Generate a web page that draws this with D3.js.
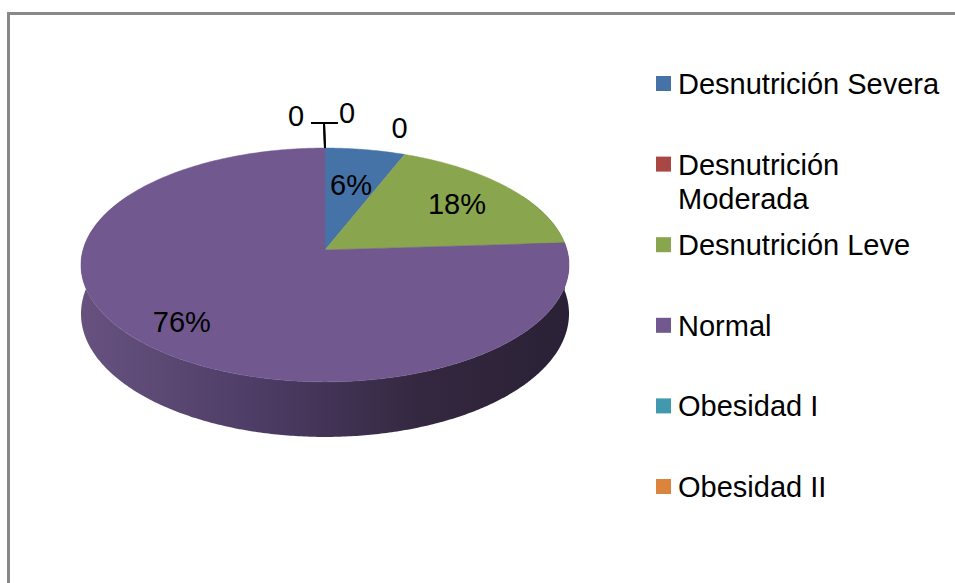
<!DOCTYPE html>
<html><head><meta charset="utf-8">
<script src="https://cdn.jsdelivr.net/npm/d3@7"></script>
<style>html,body{margin:0;padding:0;background:#fff;overflow:hidden}text{font-family:"Liberation Sans",Arial,sans-serif}</style>
</head><body>
<svg id="chart" width="955" height="583"></svg>
<script>
const categories = ["Desnutrición Severa","Desnutrición Moderada","Desnutrición Leve","Normal","Obesidad I","Obesidad II"];
const values = [6, 0, 18, 76, 0, 0];
const labels = ["6%","0","18%","76%","0","0"];
const colors = ["#4572A7","#AA4643","#89A54E","#71588F","#4198AF","#DB843D"];

const svg = d3.select("#chart");
svg.append("rect").attr("x",8.5).attr("y",13.5).attr("width",1200).attr("height",1200)
  .attr("fill","#fff").attr("stroke","#898989").attr("stroke-width",3);

// perspective projection of the pie disc
const cx=325, cy=250, R=242, Ry=115, k=0.128, D=48;
function proj(theta, f, down){
  const u=Math.sin(theta)*f, v=-Math.cos(theta)*f, s=1/(1-k*v);
  return [cx+R*u*s, cy+Ry*v*s+(down?D*s:0)];
}
function arcPts(a0,a1,f,down){
  const n=Math.max(2,Math.ceil((a1-a0)/0.01)), pts=[];
  for(let i=0;i<=n;i++) pts.push(proj(a0+(a1-a0)*i/n,f,down));
  return pts;
}
const line=d3.line();
const pie=d3.pie().sort(null).startAngle(0).endAngle(2*Math.PI).value(d=>d);
const arcs=pie(values);

const defs=svg.append("defs");
const g=defs.append("linearGradient").attr("id","sideGrad").attr("gradientUnits","userSpaceOnUse")
  .attr("x1",cx-R).attr("x2",cx+R).attr("y1",0).attr("y2",0);
[[0,"#67527f"],[0.4,"#4a3a62"],[0.7,"#33283f"],[1,"#2b2136"]].forEach(s=>g.append("stop").attr("offset",s[0]).attr("stop-color",s[1]));

// sides
const fr0=Math.PI/3, fr1=5*Math.PI/3;
arcs.forEach((a,i)=>{
  const b0=Math.max(a.startAngle,fr0), b1=Math.min(a.endAngle,fr1);
  if(a.value<=0||b1<=b0) return;
  const pts=arcPts(b0,b1,1,false).concat(arcPts(b0,b1,1,true).reverse());
  svg.append("path").attr("d",line(pts)+"Z")
    .attr("fill", i===3?"url(#sideGrad)":d3.color(colors[i]).darker(1.3));
});
// tops
arcs.forEach((a,i)=>{
  if(a.value<=0) return;
  const pts=[[cx,cy]].concat(arcPts(a.startAngle,a.endAngle,1,false));
  svg.append("path").attr("d",line(pts)+"Z").attr("fill",colors[i]).attr("stroke",colors[i]).attr("stroke-width",0.5);
});

// data labels
const fs=29;
const labelFrac={0:0.62,2:0.71,3:0.8};
const lg=svg.append("g").attr("font-size",fs).attr("fill","#000").attr("text-anchor","middle");
arcs.forEach((a,i)=>{
  const mid=(a.startAngle+a.endAngle)/2;
  if(a.value>0){
    const p=proj(mid,labelFrac[i],false);
    lg.append("text").attr("x",p[0]).attr("y",p[1]+10).text(labels[i]);
  }
});
// zero-value labels
const zeroIdx=arcs.map((a,i)=>i).filter(i=>arcs[i].value===0);
zeroIdx.forEach(i=>{
  const a=arcs[i];
  const p=proj(a.startAngle,1,false);
  if(i===1){
    lg.append("text").attr("x",p[0]-5).attr("y",p[1]-16).text(labels[i]);
  } else {
    const side = i===4?-1:1;
    const tx = p[0]+side*(i===4?29:22), ty = p[1]-(i===4?22:25);
    lg.append("text").attr("x",tx).attr("y",ty).text(labels[i]);
    const ly=p[1]-25;
    svg.append("path").attr("d",line([[p[0],p[1]],[p[0]-1,ly],[p[0]+side*(i===4?14:13),ly]]))
      .attr("fill","none").attr("stroke","#000").attr("stroke-width",2);
  }
});

// legend
const lx=656, ltx=678, maxW=272, step=80.6, base0=94, lh=34;
const leg=svg.append("g").attr("font-size",fs).attr("fill","#000");
categories.forEach((c,i)=>{
  const by=base0+i*step;
  leg.append("rect").attr("x",lx).attr("y",by-18).attr("width",15).attr("height",15).attr("fill",colors[i]);
  const t=leg.append("text").attr("x",ltx).attr("y",by);
  const words=c.split(" ");
  let lineWords=[], ts=t.append("tspan").attr("x",ltx).attr("y",by), ln=0;
  words.forEach(w=>{
    lineWords.push(w); ts.text(lineWords.join(" "));
    if(ts.node().getComputedTextLength()>maxW && lineWords.length>1){
      lineWords.pop(); ts.text(lineWords.join(" "));
      lineWords=[w]; ln++;
      ts=t.append("tspan").attr("x",ltx).attr("y",by+ln*lh).text(w);
    }
  });
});
</script>
</body></html>
